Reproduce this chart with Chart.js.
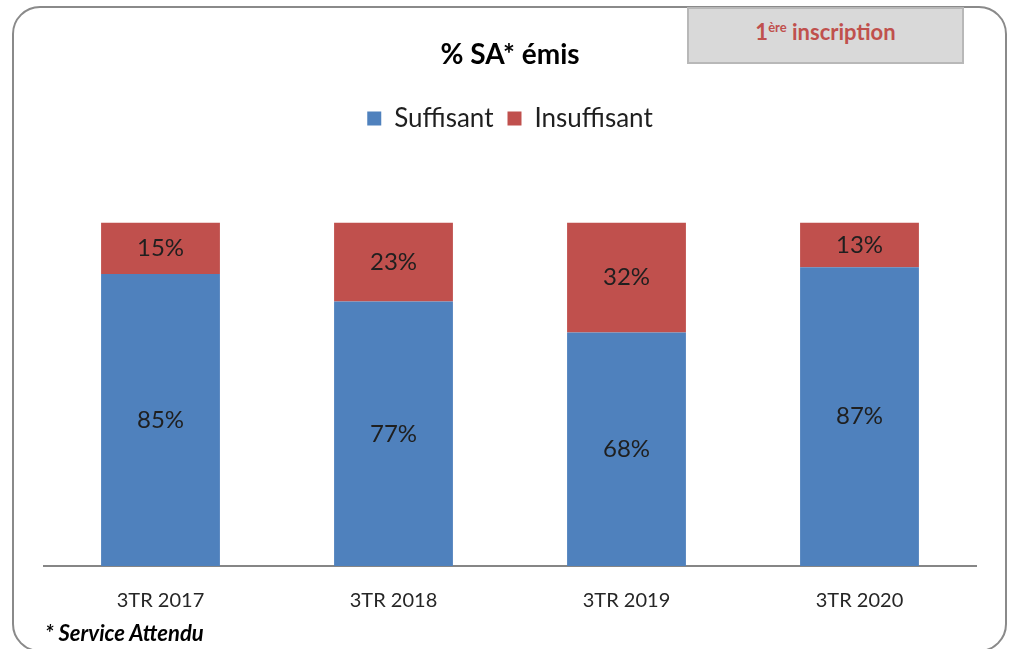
<!DOCTYPE html>
<html>
<head>
<meta charset="utf-8">
<script src="https://cdn.jsdelivr.net/npm/chart.js@4"></script>
<style>
  body { margin: 0; background: #fff; width: 1018px; height: 649px; overflow: hidden; position: relative; font-family: Lato, sans-serif; }
  #frame { position: absolute; left: 12px; top: 6px; width: 991px; height: 642px; border: 2.5px solid #8a8a8a; border-radius: 28px; }
  #tag { position: absolute; left: 687px; top: 7px; width: 273px; height: 53px; background: #d9d9d9; border: 2px solid #b8b8b8;
         color: #c0504d; font-weight: bold; font-size: 22px; text-align: center; line-height: 46px; }
  #tag sup { font-size: 13px; vertical-align: 8px; line-height: 0; }
  #note { position: absolute; left: 45px; top: 619px; font-size: 22px; font-weight: bold; font-style: italic; color: #000; }
  #wrap { position: absolute; left: 0; top: 0; width: 1018px; height: 649px; }
</style>
</head>
<body>
<div id="frame"></div>
<div id="wrap"><canvas id="chart"></canvas></div>
<div id="tag">1<sup>ère</sup> inscription</div>
<div id="note">* Service Attendu</div>
<script>
const categories = ['3TR 2017', '3TR 2018', '3TR 2019', '3TR 2020'];
const suffisant = [85, 77, 68, 87];
const insuffisant = [15, 23, 32, 13];

// draws the % values in the middle of each segment
const valueLabels = {
    id: 'valueLabels',
    afterDatasetsDraw(chart) {
        const ctx = chart.ctx;
        ctx.save();
        ctx.font = '24px Lato';
        ctx.fillStyle = '#1f1f1f';
        ctx.textAlign = 'center';
        ctx.textBaseline = 'middle';
        chart.data.datasets.forEach((ds, i) => {
            chart.getDatasetMeta(i).data.forEach((bar, j) => {
                ctx.fillText(ds.data[j] + '%', bar.x, (bar.y + bar.base) / 2);
            });
        });
        ctx.restore();
    }
};

// extra room between the legend and the bars
const legendGap = {
    id: 'legendGap',
    beforeInit(chart) {
        const fit = chart.legend.fit;
        chart.legend.fit = function () {
            fit.call(this);
            this.height += 81;
        };
    }
};

new Chart(document.getElementById('chart'), {
    type: 'bar',
    data: {
        labels: categories,
        datasets: [
            { label: 'Suffisant', data: suffisant, backgroundColor: '#4f81bd' },
            { label: 'Insuffisant', data: insuffisant, backgroundColor: '#c0504d' }
        ]
    },
    options: {
        responsive: true,
        maintainAspectRatio: false,
        animation: false,
        layout: { padding: { left: 44, right: 42, top: 0, bottom: 13 } },
        datasets: { bar: { categoryPercentage: 0.51, barPercentage: 1 } },
        scales: {
            x: {
                stacked: true,
                grid: { display: false, drawTicks: false, tickLength: 0 },
                border: { display: true, color: '#868686', width: 2 },
                ticks: { color: '#262626', font: { family: 'Lato', size: 20 }, padding: 23 }
            },
            y: {
                stacked: true,
                display: false,
                min: 0,
                max: 100
            }
        },
        plugins: {
            title: {
                display: true,
                text: '% SA* émis',
                color: '#000',
                font: { family: 'Lato', size: 28, weight: 'bold' },
                padding: { top: 38, bottom: 20 }
            },
            legend: {
                labels: {
                    color: '#1f1f1f',
                    font: { family: 'Lato', size: 26 },
                    boxWidth: 14,
                    boxHeight: 14,
                    padding: 14
                }
            },
            tooltip: { enabled: false }
        }
    },
    plugins: [valueLabels, legendGap]
});
</script>
</body>
</html>
